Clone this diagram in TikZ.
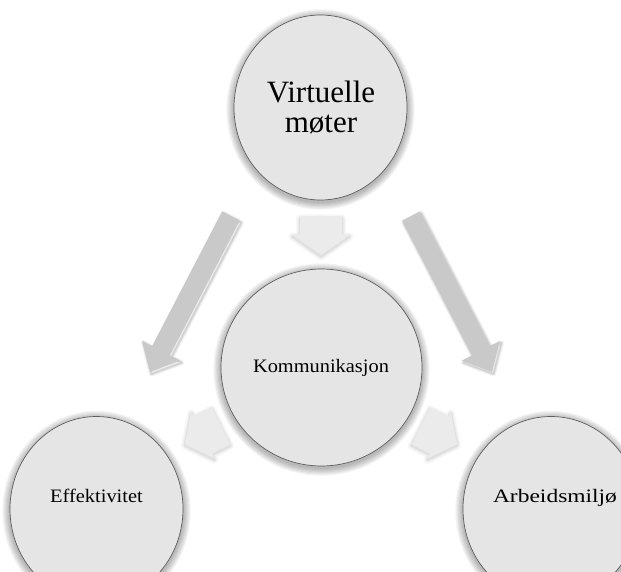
\documentclass[tikz,border=0pt]{standalone}
\usepackage{fontspec}
\setmainfont{Liberation Serif}
\usetikzlibrary{calc,shapes.geometric}
\definecolor{circfill}{HTML}{E5E5E5}
\definecolor{circline}{HTML}{5E5E5E}
\definecolor{bigarrow}{HTML}{C9C9C9}
\definecolor{smallarrow}{HTML}{EBEBEB}
% block arrow: #1 start, #2 tip, #3 half shaft, #4 half head, #5 head-base coordinate, #6 style
\newcommand{\blockarr}[6]{%
  \path[#6] ($(#1)!#3!90:(#2)$) -- ($(#5)!#3!90:(#2)$) -- ($(#5)!#4!90:(#2)$) -- (#2)
    -- ($(#5)!#4!-90:(#2)$) -- ($(#5)!#3!-90:(#2)$) -- ($(#1)!#3!-90:(#2)$) -- cycle;}
\newcommand{\circshadow}[4]{%
  \foreach \k in {1,...,7}{%
    \fill[black,opacity=0.045] (#1,#2) ellipse [x radius={#3+\k*1.1}, y radius={#4+\k*1.1}];}}
\tikzset{
  circ/.style={ellipse, draw=circline, line width=0.7pt, fill=circfill, inner sep=0pt},
  lbl/.style={font=\fontsize{19}{22}\selectfont, anchor=base, inner sep=0pt},
}
\begin{document}
\begin{tikzpicture}[x=1pt,y=-1pt]
\fill[white] (0,0) rectangle (621,572);
\useasboundingbox (0,0) rectangle (621,572);
\begin{scope}
\clip (0,0) rectangle (621,572);
% shadows of circles
\circshadow{320.5}{109.5}{86.5}{92.5}
\circshadow{321.5}{369.5}{100.5}{98.5}
\circshadow{96.5}{511}{86.5}{92.5}
\circshadow{551}{511}{88}{92.5}
% circles
\node[circ, minimum width=173pt, minimum height=185pt] (top) at (320.5,107.5) {};
\node[circ, minimum width=201pt, minimum height=197pt] (mid) at (321.5,367.5) {};
\node[circ, minimum width=173pt, minimum height=185pt] (eff) at (96.5,509) {};
\node[circ, minimum width=176pt, minimum height=185pt] (arb) at (551,509) {};
\end{scope}
% texts
\node[font=\fontsize{31}{30}\selectfont, align=center, inner sep=0pt] (toptxt) at (321,107) {Virtuelle\\møter};
\node[lbl] (midtxt) at (321,372) {\scalebox{1.073}[1]{Kommunikasjon}};
\node[lbl] (efftxt) at (96.5,502) {\scalebox{1.075}[1]{Effektivitet}};
\node[lbl] (arbtxt) at (555,502) {\scalebox{1.236}[1]{Arbeidsmiljø}};
% arrow coordinates
\coordinate (lS) at (231,216); \coordinate (lE) at (150,372);
\coordinate (rS) at (411,216); \coordinate (rE) at (492,372);
\coordinate (tS) at (321,217); \coordinate (tE) at (321,255);
\coordinate (slS) at (221,426); \coordinate (slE) at (185,444);
\coordinate (srS) at (421,426); \coordinate (srE) at (457,444);
\coordinate (lH) at ($(lE)!24pt!(lS)$);
\coordinate (rH) at ($(rE)!24pt!(rS)$);
\coordinate (tH) at ($(tE)!20pt!(tS)$);
\coordinate (slH) at ($(slE)!20pt!(slS)$);
\coordinate (srH) at ($(srE)!20pt!(srS)$);
% long arrows: shadow + body
\foreach \w/\o in {5/0.05,3/0.06,1.5/0.07}{%
  \blockarr{lS}{lE}{10pt}{21.5pt}{lH}{draw=black, line width=\w pt, opacity=\o, line join=round, transform canvas={shift={(1.5pt,-2pt)}}}
  \blockarr{rS}{rE}{10pt}{21.5pt}{rH}{draw=black, line width=\w pt, opacity=\o, line join=round, transform canvas={shift={(1.5pt,-2pt)}}}
}
\blockarr{lS}{lE}{10pt}{21.5pt}{lH}{fill=bigarrow}
\blockarr{rS}{rE}{10pt}{21.5pt}{rH}{fill=bigarrow}
% small arrows: soft glow + body
\foreach \w/\o in {8/0.03,5/0.04,2.5/0.05}{%
  \blockarr{tS}{tE}{21pt}{28.5pt}{tH}{draw=black, line width=\w pt, opacity=\o, line join=round, transform canvas={shift={(0pt,-1.5pt)}}}
  \blockarr{slS}{slE}{20.5pt}{26pt}{slH}{draw=black, line width=\w pt, opacity=\o, line join=round, transform canvas={shift={(0pt,-1.5pt)}}}
  \blockarr{srS}{srE}{20.5pt}{26pt}{srH}{draw=black, line width=\w pt, opacity=\o, line join=round, transform canvas={shift={(0pt,-1.5pt)}}}
}
\blockarr{tS}{tE}{21pt}{28.5pt}{tH}{fill=smallarrow}
\blockarr{slS}{slE}{20.5pt}{26pt}{slH}{fill=smallarrow}
\blockarr{srS}{srE}{20.5pt}{26pt}{srH}{fill=smallarrow}
\end{tikzpicture}
\end{document}
